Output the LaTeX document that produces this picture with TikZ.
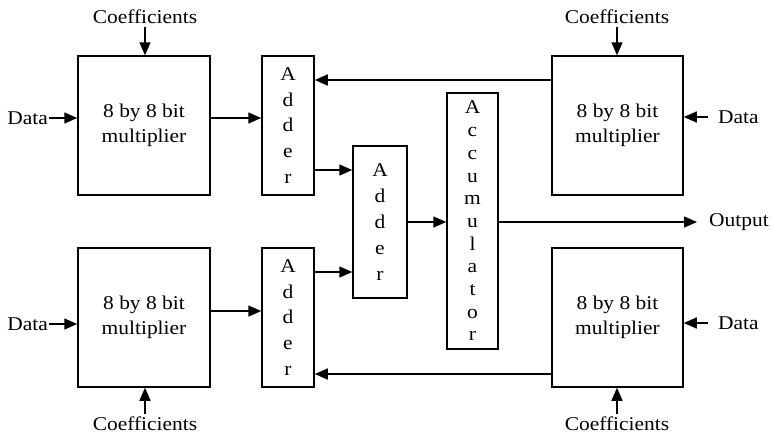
\documentclass[tikz,border=0pt]{standalone}
\usepackage{fontspec}
\setmainfont{Liberation Serif}[FakeStretch=1.1]
\usetikzlibrary{arrows.meta}
\begin{document}
\begin{tikzpicture}[x=1pt,y=-1pt,
  every node/.style={font=\fontsize{19.5}{25}\selectfont},
  blk/.style={draw,line width=1.5pt,inner sep=0,align=center},
  mult/.style={blk,minimum width=132pt,minimum height=139pt},
  addbox/.style={blk,minimum width=52pt,minimum height=139pt,font=\fontsize{19.5}{25.8}\selectfont},
  lbl/.style={inner sep=0},
  arr/.style={line width=1.5pt,-{Triangle[length=13pt,width=11pt]}}]
\useasboundingbox (0,0) rectangle (773,437);
% multipliers
\node[mult] (m1) at (144,125.5) {8 by 8 bit\\multiplier};
\node[mult,minimum width=131pt] (m2) at (617.5,125.5) {8 by 8 bit\\multiplier};
\node[mult] (m3) at (144,317.5) {8 by 8 bit\\multiplier};
\node[mult,minimum width=131pt] (m4) at (617.5,317.5) {8 by 8 bit\\multiplier};
% adders
\node[addbox] (a1) at (288,125.5) {A\\d\\d\\e\\r};
\node[addbox] (a2) at (288,317.5) {A\\d\\d\\e\\r};
\node[addbox,minimum width=54pt,minimum height=152pt] (a3) at (380,222) {A\\d\\d\\e\\r};
\node[blk,minimum width=51pt,minimum height=256pt,font=\fontsize{19.5}{22.7}\selectfont] (acc) at (472.5,221) {A\\c\\c\\u\\m\\u\\l\\a\\t\\o\\r};
% labels
\node[lbl,anchor=east] (d1) at (48,118) {Data};
\node[lbl,anchor=east] (d3) at (48,324) {Data};
\node[lbl,anchor=west] (d2) at (718,117) {Data};
\node[lbl,anchor=west] (d4) at (718,323) {Data};
\node[lbl] (c1) at (145,16.5) {Coefficients};
\node[lbl] (c2) at (617,16.5) {Coefficients};
\node[lbl] (c3) at (145,424) {Coefficients};
\node[lbl] (c4) at (617,424) {Coefficients};
\node[lbl,anchor=west] (out) at (709,222) {Output};
% helper rows
\coordinate (r80) at (0,80);
\coordinate (r118) at (0,118);
\coordinate (r170) at (0,170);
\coordinate (r222) at (0,222);
\coordinate (r272) at (0,272);
\coordinate (r311) at (0,311);
\coordinate (r374) at (0,374);
% data inputs
\draw[arr] ([xshift=1pt]d1.east) -- (d1.east -| m1.west);
\draw[arr] ([xshift=1pt]d3.east) -- (d3.east -| m3.west);
\draw[arr] ([xshift=-10pt]d2.west) -- (d2.west -| m2.east);
\draw[arr] ([xshift=-10pt]d4.west) -- (d4.west -| m4.east);
% coefficients
\draw[arr] ([yshift=-3pt]c1.south) -- (c1.south |- m1.north);
\draw[arr] ([yshift=-3pt]c2.south) -- (c2.south |- m2.north);
\draw[arr] ([yshift=3pt]c3.north) -- (c3.north |- m3.south);
\draw[arr] ([yshift=3pt]c4.north) -- (c4.north |- m4.south);
% multipliers to adders
\draw[arr] (m1.east |- r118) -- (a1.west |- r118);
\draw[arr] (m3.east |- r311) -- (a2.west |- r311);
\draw[arr] (m2.west |- r80) -- (a1.east |- r80);
\draw[arr] (m4.west |- r374) -- (a2.east |- r374);
% adders to adder
\draw[arr] (a1.east |- r170) -- (a3.west |- r170);
\draw[arr] (a2.east |- r272) -- (a3.west |- r272);
\draw[arr] (a3.east |- r222) -- (acc.west |- r222);
% output
\draw[arr] (acc.east |- r222) -- ([xshift=-12pt]out.west);
\end{tikzpicture}
\end{document}
